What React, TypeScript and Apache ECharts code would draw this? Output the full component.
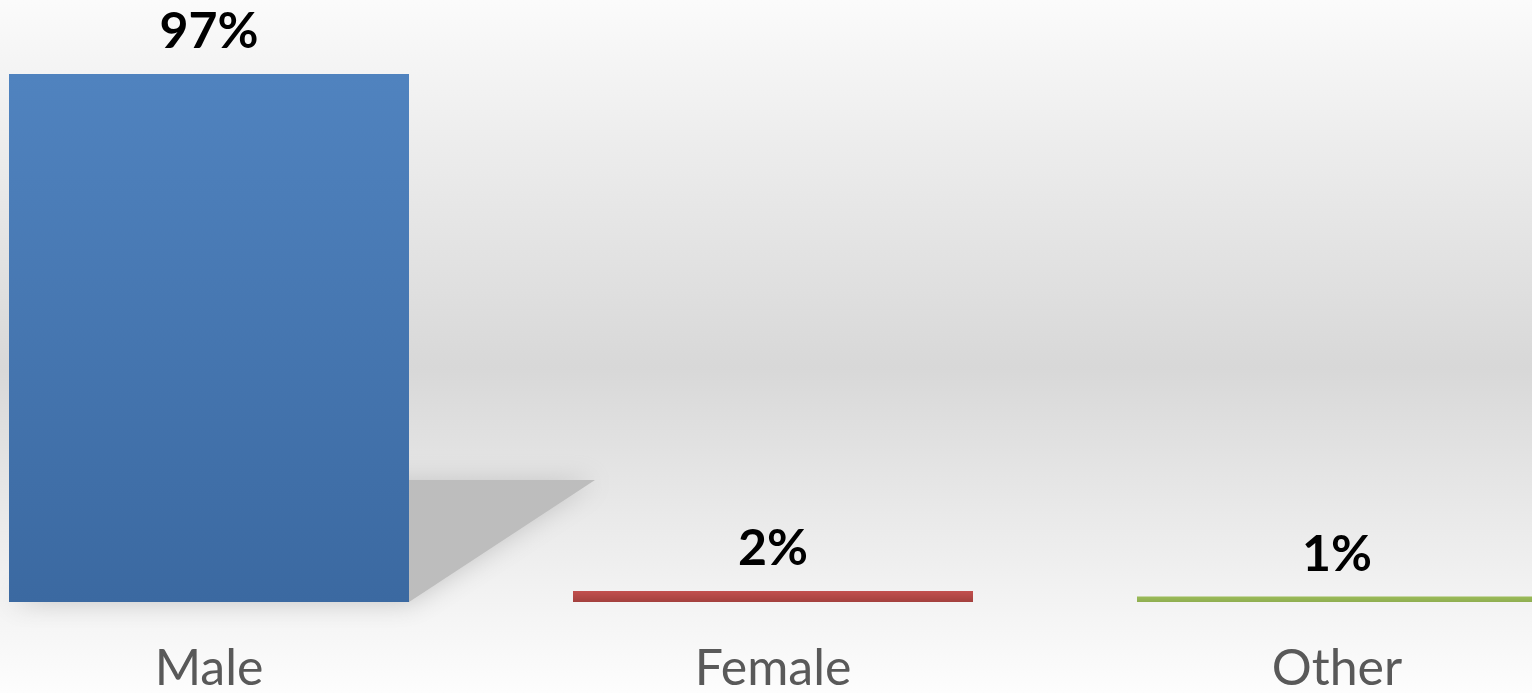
import React, { useEffect, useRef } from "react";
import * as echarts from "echarts";

const categories = ["Male", "Female", "Other"];
const values = [97, 2, 1];
const labels = ["97%", "2%", "1%"];

const barColors = [
  ["#5083BF", "#3B69A1"],
  ["#C2504E", "#A3403D"],
  ["#9BBB59", "#8FAE50"],
];

export default function App() {
  const ref = useRef<HTMLDivElement>(null);
  useEffect(() => {
    if (!ref.current) return;
    document.documentElement.style.overflow = "hidden";
    document.body.style.overflow = "hidden";
    const chart = echarts.init(ref.current, undefined, { renderer: "svg" });
    const shadowK = 0.231;
    const shadowDx = 186;
    const barW = 400;
    chart.setOption({
      animation: false,
      graphic: [
        {
          type: "rect",
          z: -10,
          silent: true,
          shape: { x: 0, y: 0, width: 1692, height: 693 },
          style: {
            fill: new echarts.graphic.LinearGradient(0, 0, 0, 1, [
              { offset: 0, color: "#fbfbfb" },
              { offset: 0.2, color: "#ededed" },
              { offset: 0.53, color: "#d8d8d8" },
              { offset: 0.8, color: "#eeeeee" },
              { offset: 1, color: "#fdfdfd" },
            ]),
          },
        },
      ],
      grid: { left: 0, right: 0, top: 57.7, bottom: 91, containLabel: false },
      xAxis: {
        type: "category",
        data: categories,
        axisLine: { show: false },
        axisTick: { show: false },
        axisLabel: {
          color: "#595959",
          fontFamily: "Lato",
          fontSize: 50,
          margin: 39,
        },
      },
      yAxis: {
        type: "value",
        min: 0,
        max: 100,
        show: false,
        splitLine: { show: false },
      },
      series: [
        {
          type: "custom",
          z: 1,
          silent: true,
          data: values.map((v, i) => [i, v]),
          renderItem: (params: any, api: any) => {
            const top = api.coord([api.value(0), api.value(1)]);
            const base = api.coord([api.value(0), 0]);
            const h = base[1] - top[1];
            if (h * shadowK < 6) return { type: "group", children: [] };
            const x0 = top[0] - barW / 2;
            const x1 = top[0] + barW / 2;
            const ty = base[1] - h * shadowK;
            return {
              type: "polygon",
              shape: {
                points: [
                  [x0, base[1]],
                  [x1, base[1]],
                  [x1 + shadowDx, ty],
                  [x0 + shadowDx, ty],
                ],
              },
              style: {
                fill: "#bdbdbd",
                shadowBlur: 26,
                shadowColor: "#c4c4c4",
              },
            };
          },
        },
        {
          type: "bar",
          z: 3,
          barWidth: barW,
          data: values.map((v, i) => ({
            value: v,
            itemStyle: {
              color: new echarts.graphic.LinearGradient(0, 0, 0, 1, [
                { offset: 0, color: barColors[i][0] },
                { offset: 1, color: barColors[i][1] },
              ]),
            },
          })),
          label: {
            show: true,
            position: "top",
            distance: 20,
            formatter: (p: any) => labels[p.dataIndex],
            color: "#000000",
            fontFamily: "Lato",
            fontWeight: "bold",
            fontSize: 50,
          },
        },
      ],
    });
    return () => chart.dispose();
  }, []);
  return (
    <div
      ref={ref}
      style={{ position: "fixed", left: -73, top: 0, width: 1692, height: 693 }}
    />
  );
}
